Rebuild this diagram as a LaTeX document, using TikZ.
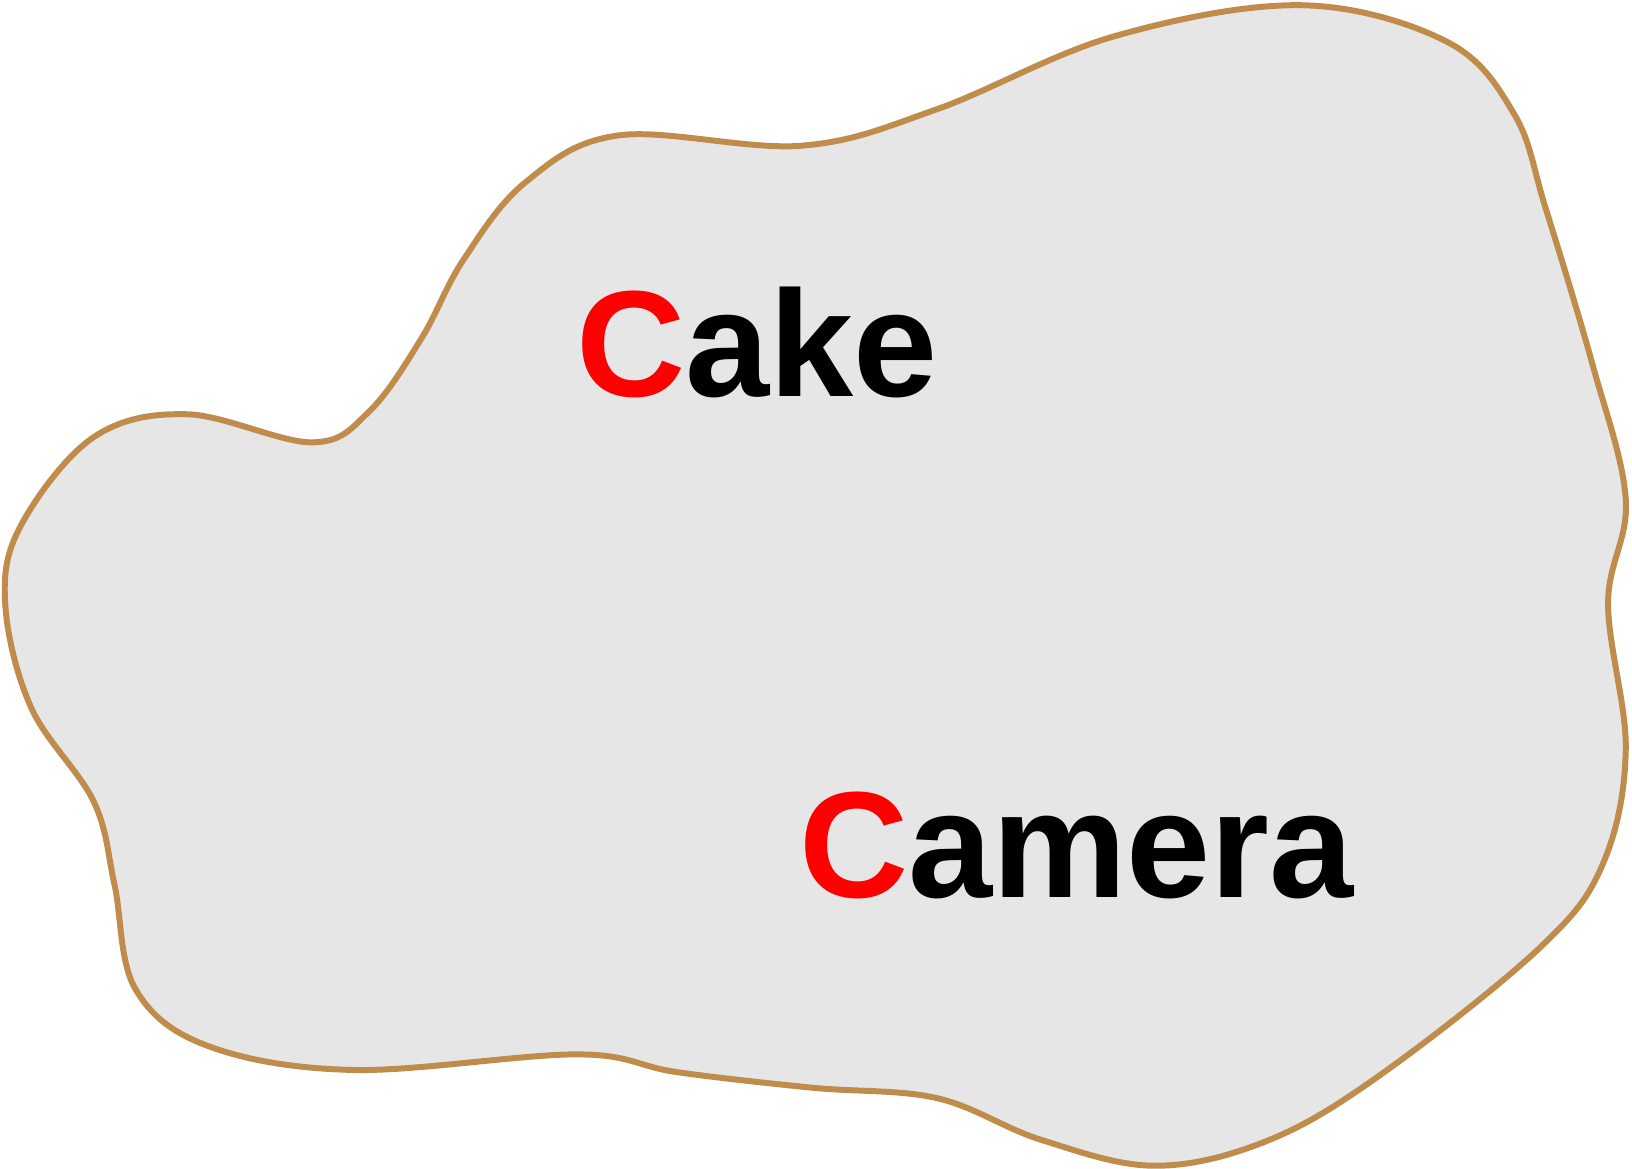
\documentclass[tikz,border=0pt]{standalone}
\usepackage{fontspec}
\setmainfont{Liberation Sans}
\usepackage{tikz}
\definecolor{blobline}{RGB}{192,140,76}
\definecolor{blobfill}{RGB}{230,230,230}
\tikzset{
  word/.style={font=\bfseries\fontsize{43}{43}\selectfont, inner sep=0pt, anchor=base west},
}
\begin{document}
\begin{tikzpicture}[x=0.010408cm, y=-0.010408cm]
                \useasboundingbox (0,0) rectangle (1568,1123);
                % Blob
                \draw[blobline, fill=blobfill, line width=1.7pt] plot[smooth cycle, tension=0.6] coordinates {
                  (300,425) (355,395) (405,325) (445,250) (505,175) (595,130) (770,140)
                  (900,105) (1070,35) (1250,5) (1390,40) (1455,110) (1485,200) (1530,350)
                  (1562,480) (1545,580) (1562,720) (1540,830) (1480,910) (1330,1030)
                  (1220,1095) (1110,1120) (1000,1095) (900,1055) (780,1045) (650,1030)
                  (555,1013) (340,1028) (200,1005) (130,950) (110,850) (90,770) (30,680)
                  (5,580) (20,505) (90,420) (180,398)};
                
                % Words
                \node[word] (cake) at (553,381) {\textcolor{red}{C}ake};
                \node[word] (camera) at (767,862) {\textcolor{red}{C}amera};
            \end{tikzpicture}
\end{document}
